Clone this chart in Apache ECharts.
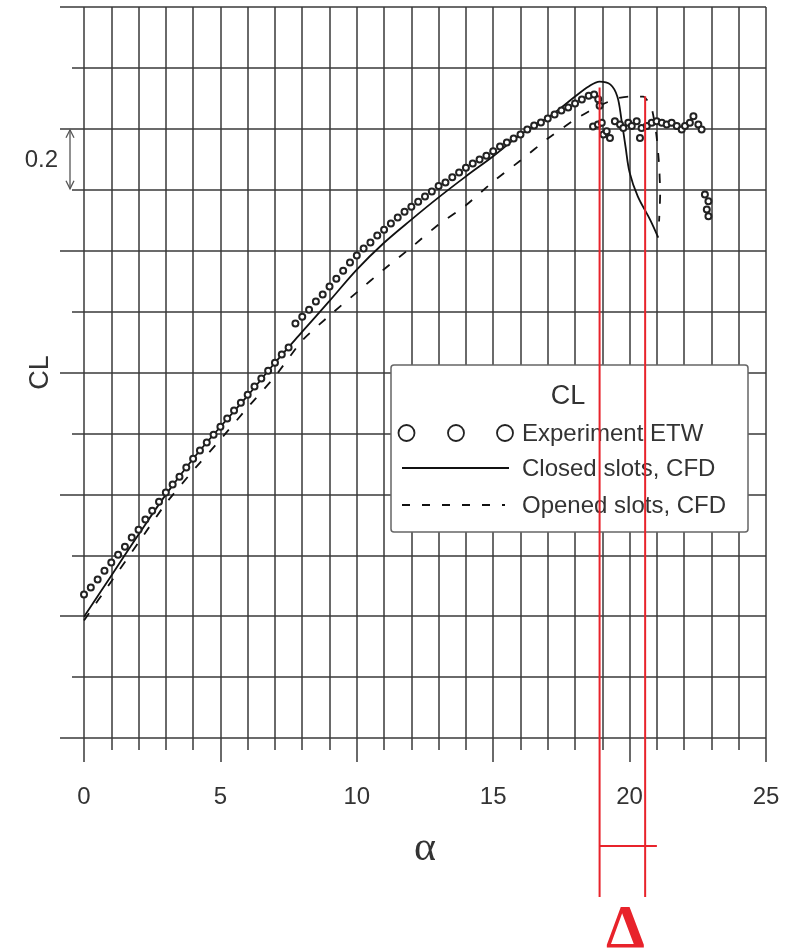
<!DOCTYPE html>
<html><head><meta charset="utf-8">
<script src="https://cdn.jsdelivr.net/npm/echarts@6/dist/echarts.min.js"></script>
<style>html,body{margin:0;padding:0;background:#fff}#c{width:789px;height:948px}</style>
</head><body><div id="c"></div>
<script>
// ---- data ----
const expAlpha = [
  0,0.25,0.5,0.75,1,1.25,1.5,1.75,2,2.25,2.5,2.75,3,3.25,3.5,3.75,4,4.25,4.5,4.75,5,5.25,5.5,5.75,6,6.25,6.5,6.75,7,7.25,7.5,
  7.75,8,8.25,8.5,8.75,9,9.25,9.5,9.75,10,10.25,10.5,10.75,11,11.25,11.5,11.75,12,12.25,12.5,12.75,13,13.25,13.5,13.75,14,14.25,14.5,14.75,15,15.25,15.5,15.75,16,16.25,16.5,16.75,17,17.25,17.5,17.75,18,18.25,18.5,18.7,18.85,18.9,
  18.66,18.84,18.98,19.04,19.16,19.28,19.46,19.65,19.77,19.95,20.08,20.26,20.38,20.44,20.63,20.81,20.99,21.18,21.36,21.54,21.73,21.91,22.03,22.21,22.34,22.52,22.64,
  22.76,22.89,22.83,22.89
];
const expCL = [
  0.471,0.494,0.520,0.549,0.576,0.602,0.628,0.658,0.684,0.717,0.746,0.776,0.806,0.832,0.858,0.888,0.917,0.944,0.970,0.996,1.022,1.049,1.075,1.101,1.127,1.154,1.180,1.206,1.232,1.259,1.282,
  1.361,1.383,1.406,1.433,1.456,1.482,1.508,1.534,1.561,1.584,1.607,1.627,1.650,1.669,1.689,1.709,1.728,1.744,1.761,1.778,1.794,1.812,1.824,1.841,1.857,1.872,1.886,1.899,1.912,1.926,1.942,1.955,1.968,1.981,1.998,2.011,2.021,2.034,2.047,2.060,2.070,2.083,2.096,2.109,2.113,2.097,2.076,
  2.008,2.014,2.020,1.981,1.992,1.970,2.025,2.014,2.003,2.020,2.009,2.025,1.970,2.003,2.009,2.020,2.025,2.020,2.014,2.020,2.009,1.998,2.009,2.020,2.041,2.014,1.998,
  1.784,1.762,1.735,1.713
];
const closedAlpha = [0,1,2,3,4,5,6,7,8,9,10,11,12,13,14,15,16,17,17.5,18,18.5,18.9,19.3,19.55,19.7,19.85,20.0,20.3,20.75,21.05];
const closedCL    = [0.398,0.533,0.668,0.799,0.917,1.022,1.124,1.232,1.334,1.435,1.538,1.626,1.702,1.775,1.844,1.910,1.981,2.037,2.070,2.106,2.139,2.155,2.145,2.106,2.031,1.942,1.857,1.778,1.702,1.643];
const openedAlpha = [0,1,2,3,4,5,6,7,8,9,10,11,12,13,14,15,16,17,18,18.5,19,19.5,20,20.5,20.8,20.98,21.08,21.12,21.08];
const openedCL    = [0.386,0.514,0.642,0.770,0.878,0.980,1.085,1.187,1.305,1.387,1.463,1.539,1.611,1.686,1.749,1.827,1.896,1.968,2.031,2.057,2.080,2.099,2.106,2.106,2.070,1.982,1.883,1.785,1.696];
const xMin = 0, xMax = 25, xMajor = 5, xMinorSplit = 5;
const yMin = 0, yMax = 2.4, yMajor = 0.4, yMinorSplit = 2;
const scaleMarkTop = 2.0, scaleMarkBottom = 1.8, scaleMarkText = '0.2';
const deltaStart = 18.9, deltaEnd = 20.57, deltaTickEnd = 21.0;
const deltaStartTop = 2.136, deltaEndTop = 2.107;
const legendTitle = 'CL';
const legendNames = ['Experiment ETW', 'Closed slots, CFD', 'Opened slots, CFD'];

const zip = (a, b) => a.map((v, i) => [v, b[i]]);
const INK = '#333';
const GRID = '#3a3a3a';

const chart = echarts.init(document.getElementById('c'), null, {renderer: 'canvas'});
chart.setOption({
  animation: false,
  backgroundColor: '#fff',
  grid: {left: 84, right: 23, top: 7, bottom: 210, containLabel: false},
  xAxis: {
    type: 'value', min: xMin, max: xMax, interval: xMajor,
    name: 'α', nameLocation: 'middle', nameGap: 90,
    nameTextStyle: {fontFamily: 'Liberation Serif', fontSize: 42, color: INK},
    axisLine: {show: false, onZero: false},
    axisTick: {show: true, length: 24, lineStyle: {color: GRID, width: 1.5}},
    minorTick: {show: true, splitNumber: xMinorSplit, length: 12, lineStyle: {color: GRID, width: 1.5}},
    splitLine: {show: true, lineStyle: {color: GRID, width: 1.5}},
    minorSplitLine: {show: true, lineStyle: {color: GRID, width: 1.5}},
    axisLabel: {margin: 47, fontFamily: 'Liberation Sans', fontSize: 24, color: INK}
  },
  yAxis: {
    type: 'value', min: yMin, max: yMax, interval: yMajor,
    name: 'CL', nameLocation: 'middle', nameGap: 30,
    nameTextStyle: {fontFamily: 'Liberation Sans', fontSize: 27, color: INK},
    axisLine: {show: false},
    axisTick: {show: true, length: 24, lineStyle: {color: GRID, width: 1.5}},
    minorTick: {show: true, splitNumber: yMinorSplit, length: 12, lineStyle: {color: GRID, width: 1.5}},
    splitLine: {show: true, lineStyle: {color: GRID, width: 1.5}},
    minorSplitLine: {show: true, lineStyle: {color: GRID, width: 1.5}},
    axisLabel: {show: false}
  },
  series: [
    {name: legendNames[1], type: 'line', data: zip(closedAlpha, closedCL), showSymbol: false, symbol: 'none', smooth: 0.35,
     lineStyle: {color: '#111', width: 1.8}, z: 3},
    {name: legendNames[2], type: 'line', data: zip(openedAlpha, openedCL), showSymbol: false, symbol: 'none', smooth: 0.2,
     lineStyle: {color: '#111', width: 1.8, type: [9, 12]}, z: 3},
    {name: legendNames[0], type: 'scatter', data: zip(expAlpha, expCL), symbol: 'emptyCircle', symbolSize: 6,
     itemStyle: {color: '#222', borderColor: '#222', borderWidth: 1.3, opacity: 1}, z: 4}
  ]
});

function px(a, c) { return chart.convertToPixel({gridIndex: 0}, [a, c]); }
const g = [];
// scale mark "0.2" with double arrow
const pTop = px(0, scaleMarkTop), pBot = px(0, scaleMarkBottom);
const ax = pTop[0] - 14;
g.push({type: 'line', shape: {x1: ax, y1: pTop[1] + 1, x2: ax, y2: pBot[1] - 1}, style: {stroke: '#555', lineWidth: 1.3}, z: 50});
g.push({type: 'polyline', shape: {points: [[ax - 4, pTop[1] + 9], [ax, pTop[1] + 1], [ax + 4, pTop[1] + 9]]}, style: {stroke: '#555', fill: null, lineWidth: 1.3}, z: 50});
g.push({type: 'polyline', shape: {points: [[ax - 4, pBot[1] - 9], [ax, pBot[1] - 1], [ax + 4, pBot[1] - 9]]}, style: {stroke: '#555', fill: null, lineWidth: 1.3}, z: 50});
g.push({type: 'text', style: {text: scaleMarkText, x: ax - 12, y: (pTop[1] + pBot[1]) / 2 + 1, align: 'right', verticalAlign: 'middle', font: '24px "Liberation Sans"', fill: INK}, z: 50});

// legend box
const LX = 391, LY = 365, LW = 357, LH = 167;
g.push({type: 'rect', shape: {x: LX, y: LY, width: LW, height: LH, r: 3}, style: {fill: '#fff', stroke: '#666', lineWidth: 1.5}, z: 100});
g.push({type: 'text', style: {text: legendTitle, x: 568, y: 397, align: 'center', verticalAlign: 'middle', font: '27px "Liberation Sans"', fill: INK}, z: 101});
[406.5, 456, 505].forEach(cx => g.push({type: 'circle', shape: {cx: cx, cy: 433, r: 8}, style: {fill: '#fff', stroke: '#222', lineWidth: 1.8}, z: 101}));
g.push({type: 'line', shape: {x1: 402, y1: 468, x2: 509, y2: 468}, style: {stroke: '#111', lineWidth: 2}, z: 101});
g.push({type: 'line', shape: {x1: 402, y1: 505, x2: 505, y2: 505}, style: {stroke: '#111', lineWidth: 2, lineDash: [8, 12]}, z: 101});
[433, 468, 505].forEach((yy, i) => g.push({type: 'text', style: {text: legendNames[i], x: 522, y: yy + 1, align: 'left', verticalAlign: 'middle', font: '24px "Liberation Sans"', fill: INK}, z: 101}));

// red delta annotation
const RED = '#e8232b';
const d1 = px(deltaStart, deltaStartTop), d2 = px(deltaEnd, deltaEndTop), d3 = px(deltaTickEnd, 0);
const redBottom = 897, redBar = 846;
g.push({type: 'line', shape: {x1: d1[0], y1: d1[1], x2: d1[0], y2: redBottom}, style: {stroke: RED, lineWidth: 2}, z: 200});
g.push({type: 'line', shape: {x1: d2[0], y1: d2[1], x2: d2[0], y2: redBottom}, style: {stroke: RED, lineWidth: 2}, z: 200});
g.push({type: 'line', shape: {x1: d1[0], y1: redBar, x2: d3[0], y2: redBar}, style: {stroke: RED, lineWidth: 2}, z: 200});
g.push({type: 'text', style: {text: 'Δ', x: (d1[0] + d2[0]) / 2 + 3, y: 962, align: 'center', verticalAlign: 'bottom', font: 'bold 62px "Liberation Serif"', fill: RED}, z: 200});

chart.setOption({graphic: {elements: g}});
</script>
</body></html>
